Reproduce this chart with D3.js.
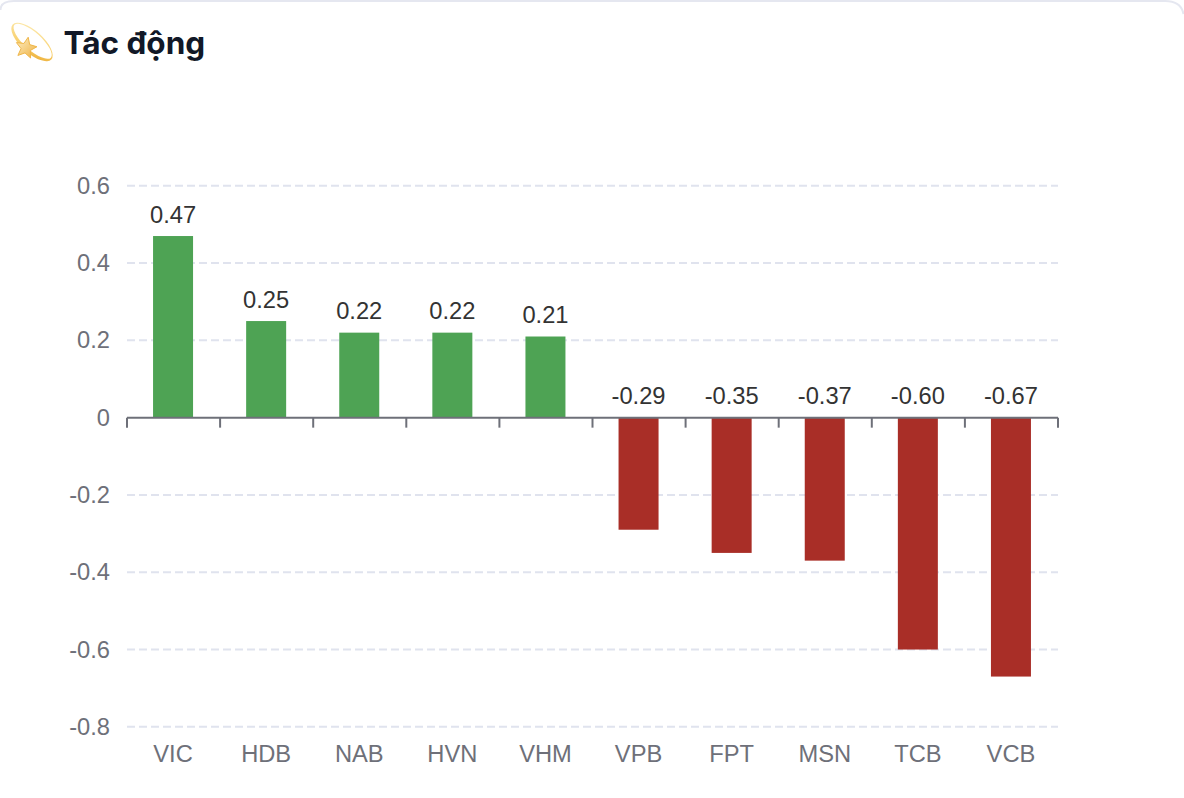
<!DOCTYPE html>
<html><head><meta charset="utf-8">
<script src="https://cdn.jsdelivr.net/npm/d3@7/dist/d3.min.js"></script>
<style>html,body{margin:0;padding:0;background:#fff;overflow:hidden}svg{display:block}</style>
</head><body><svg id="c" width="1184" height="798"></svg>
<script>
const categories=["VIC","HDB","NAB","HVN","VHM","VPB","FPT","MSN","TCB","VCB"];
const values=[0.47,0.25,0.22,0.22,0.21,-0.29,-0.35,-0.37,-0.60,-0.67];
const labels=["0.47","0.25","0.22","0.22","0.21","-0.29","-0.35","-0.37","-0.60","-0.67"];
const yTicks=[0.6,0.4,0.2,0,-0.2,-0.4,-0.6,-0.8];
const yTickLabels=["0.6","0.4","0.2","0","-0.2","-0.4","-0.6","-0.8"];
const title="Tác động";

const svg=d3.select("#c");
const font="'Liberation Sans',Arial,sans-serif";
const x=d3.scaleBand().domain(categories).range([127,1058]);
const y=d3.scaleLinear().domain([-0.8,0.6]).range([726.8,185.8]);

// card edge
svg.append("path").attr("d","M0.5,10 Q0.5,1 14,1 H1165 Q1181,1 1183.5,14").attr("fill","none").attr("stroke","#e5e7f0").attr("stroke-width",2);

// emoji
const defs=svg.append("defs");
const g=defs.append("linearGradient").attr("id","ring").attr("x1","0").attr("y1","0").attr("x2","1").attr("y2","1");
g.append("stop").attr("offset","0").attr("stop-color","#fdeeb9");
g.append("stop").attr("offset","0.6").attr("stop-color","#f8d06e");
g.append("stop").attr("offset","1").attr("stop-color","#e9a528");
const sg=defs.append("linearGradient").attr("id","star").attr("x1","0").attr("y1","0").attr("x2","1").attr("y2","1");
sg.append("stop").attr("offset","0").attr("stop-color","#fdeec4");
sg.append("stop").attr("offset","1").attr("stop-color","#eeb040");
const em=svg.append("g");
em.append("path").attr("fill-rule","evenodd").attr("fill","url(#ring)")
 .attr("transform","rotate(42 32 42)")
 .attr("d","M6,42 a26,11 0 1,0 52,0 a26,11 0 1,0 -52,0 Z M7.5,41 a24.5,8.6 0 1,0 49,0 a24.5,8.6 0 1,0 -49,0 Z");
const starPts=d3.range(10).map(i=>{const r=i%2?5:11,a=-Math.PI/2+i*Math.PI/5+0.2;return [26+r*Math.cos(a),48+r*Math.sin(a)].join(",")}).join(" ");
em.append("polygon").attr("points",starPts).attr("fill","url(#star)").attr("stroke","#efb649").attr("stroke-width",1).attr("stroke-linejoin","round");

svg.append("text").attr("x",63.5).attr("y",54).attr("font-family","Inter,sans-serif").attr("font-weight",700).attr("font-size",31.5).attr("fill","#111827").text(title);

// grid
svg.append("g").selectAll("line").data(yTicks.filter(d=>d!==0)).join("line")
 .attr("x1",127).attr("x2",1058).attr("y1",d=>y(d)).attr("y2",d=>y(d))
 .attr("stroke","#e0e3ee").attr("stroke-width",2).attr("stroke-dasharray","8 4");

// y labels
const yAxis=d3.axisLeft(y).tickValues(yTicks).tickSize(0).tickPadding(17).tickFormat((d,i)=>yTickLabels[i]);
const ya=svg.append("g").attr("transform","translate(127,0)").call(yAxis);
ya.select(".domain").remove();
ya.selectAll("text").attr("font-family",font).attr("font-size",23.7).attr("fill","#6e7079");

// bars
svg.append("g").selectAll("rect").data(values).join("rect")
 .attr("x",(d,i)=>x(categories[i])+x.bandwidth()/2-20.5).attr("width",40)
 .attr("y",d=>y(Math.max(d,0))).attr("height",d=>Math.abs(y(d)-y(0)))
 .attr("fill",d=>d>=0?"#4ea354":"#a92e27");

// zero axis
const z=y(0);
svg.append("line").attr("x1",127).attr("x2",1058).attr("y1",z).attr("y2",z).attr("stroke","#6e7079").attr("stroke-width",2);
svg.append("g").selectAll("line").data(d3.range(11)).join("line")
 .attr("x1",i=>i<10?x(categories[i]):x.range()[1]).attr("x2",i=>i<10?x(categories[i]):x.range()[1])
 .attr("y1",z).attr("y2",z+10).attr("stroke","#6e7079").attr("stroke-width",2);

// category labels
svg.append("g").selectAll("text").data(categories).join("text")
 .attr("x",d=>x(d)+x.bandwidth()/2-0.5).attr("y",761.5).attr("text-anchor","middle")
 .attr("font-family",font).attr("font-size",23.7).attr("fill","#6e7079").text(d=>d);

// value labels
svg.append("g").selectAll("text").data(values).join("text")
 .attr("x",(d,i)=>x(categories[i])+x.bandwidth()/2-0.5).attr("y",d=>y(Math.max(d,0))-13.5).attr("text-anchor","middle")
 .attr("font-family",font).attr("font-size",23.7).attr("fill","#333").text((d,i)=>labels[i]);
</script></body></html>
